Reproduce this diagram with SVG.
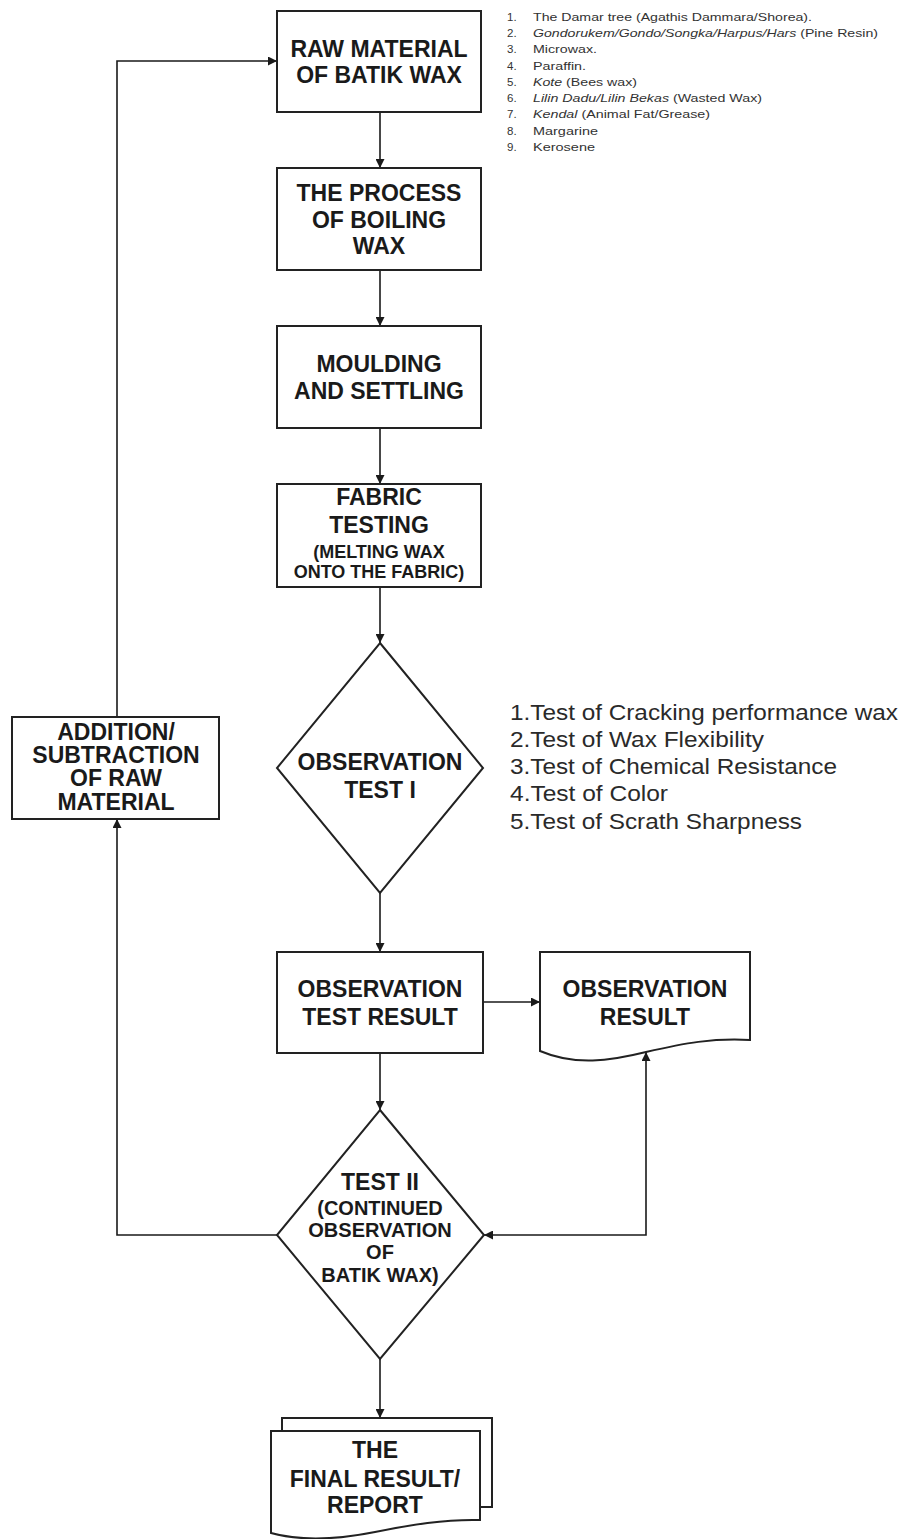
<svg xmlns="http://www.w3.org/2000/svg" width="902" height="1539" viewBox="0 0 902 1539">
<defs>
<marker id="ah" viewBox="0 0 10 10" refX="10" refY="5" markerWidth="9" markerHeight="9" markerUnits="userSpaceOnUse" orient="auto-start-reverse">
<path d="M0,0 L10,5 L0,10 Z" fill="#1a1a1a"/>
</marker>
<style>
.box{fill:#fff;stroke:#222;stroke-width:2}
.t{font-family:"Liberation Sans",Arial,sans-serif;font-weight:bold;font-size:23px;fill:#1a1a1a;text-anchor:middle}
.ts{font-family:"Liberation Sans",Arial,sans-serif;font-weight:bold;font-size:18px;fill:#1a1a1a;text-anchor:middle}
.tm{font-family:"Liberation Sans",Arial,sans-serif;font-weight:bold;font-size:20px;fill:#1a1a1a;text-anchor:middle}
.l{font-family:"Liberation Sans",Arial,sans-serif;font-size:22px;fill:#2a2a2a}
.s{font-family:"Liberation Sans",Arial,sans-serif;font-size:11.5px;fill:#333}
.c{fill:none;stroke:#1a1a1a;stroke-width:1.6}
</style>
</defs>
<rect width="902" height="1539" fill="#fff"/>

<g id="connectors">
<line class="c" x1="380" y1="112" x2="380" y2="168" marker-end="url(#ah)"/>
<line class="c" x1="380" y1="270" x2="380" y2="326" marker-end="url(#ah)"/>
<line class="c" x1="380" y1="428" x2="380" y2="484" marker-end="url(#ah)"/>
<line class="c" x1="380" y1="587" x2="380" y2="643" marker-end="url(#ah)"/>
<line class="c" x1="380" y1="893" x2="380" y2="952" marker-end="url(#ah)"/>
<line class="c" x1="483" y1="1002" x2="540" y2="1002" marker-end="url(#ah)"/>
<line class="c" x1="380" y1="1053" x2="380" y2="1110" marker-end="url(#ah)"/>
<polyline class="c" points="484,1235 646,1235 646,1052" marker-start="url(#ah)" marker-end="url(#ah)"/>
<polyline class="c" points="277,1235 117,1235 117,819" marker-end="url(#ah)"/>
<polyline class="c" points="117,717 117,61 277,61" marker-end="url(#ah)"/>
<line class="c" x1="380" y1="1359" x2="380" y2="1418" marker-end="url(#ah)"/>
</g>

<g id="raw-material">
<rect class="box" x="277" y="11" width="204" height="101"/>
<text class="t" x="379" y="57">RAW MATERIAL</text>
<text class="t" x="379" y="83">OF BATIK WAX</text>
</g>

<g id="raw-list">
<text class="s" x="507" y="21">1.</text><text class="s" x="533" y="21" textLength="279" lengthAdjust="spacingAndGlyphs">The Damar tree (Agathis Dammara/Shorea).</text>
<text class="s" x="507" y="37">2.</text><text class="s" x="533" y="37" textLength="345" lengthAdjust="spacingAndGlyphs"><tspan font-style="italic">Gondorukem/Gondo/Songka/Harpus/Hars</tspan> (Pine Resin)</text>
<text class="s" x="507" y="53">3.</text><text class="s" x="533" y="53" textLength="64" lengthAdjust="spacingAndGlyphs">Microwax.</text>
<text class="s" x="507" y="70">4.</text><text class="s" x="533" y="70" textLength="53" lengthAdjust="spacingAndGlyphs">Paraffin.</text>
<text class="s" x="507" y="86">5.</text><text class="s" x="533" y="86" textLength="104" lengthAdjust="spacingAndGlyphs"><tspan font-style="italic">Kote</tspan> (Bees wax)</text>
<text class="s" x="507" y="102">6.</text><text class="s" x="533" y="102" textLength="229" lengthAdjust="spacingAndGlyphs"><tspan font-style="italic">Lilin Dadu/Lilin Bekas</tspan> (Wasted Wax)</text>
<text class="s" x="507" y="118">7.</text><text class="s" x="533" y="118" textLength="177" lengthAdjust="spacingAndGlyphs"><tspan font-style="italic">Kendal</tspan> (Animal Fat/Grease)</text>
<text class="s" x="507" y="135">8.</text><text class="s" x="533" y="135" textLength="65" lengthAdjust="spacingAndGlyphs">Margarine</text>
<text class="s" x="507" y="151">9.</text><text class="s" x="533" y="151" textLength="62" lengthAdjust="spacingAndGlyphs">Kerosene</text>
</g>

<g id="boiling">
<rect class="box" x="277" y="168" width="204" height="102"/>
<text class="t" x="379" y="201">THE PROCESS</text>
<text class="t" x="379" y="228">OF BOILING</text>
<text class="t" x="379" y="254">WAX</text>
</g>

<g id="moulding">
<rect class="box" x="277" y="326" width="204" height="102"/>
<text class="t" x="379" y="372">MOULDING</text>
<text class="t" x="379" y="399">AND SETTLING</text>
</g>

<g id="fabric">
<rect class="box" x="277" y="484" width="204" height="103"/>
<text class="t" x="379" y="505">FABRIC</text>
<text class="t" x="379" y="533">TESTING</text>
<text class="ts" x="379" y="558">(MELTING WAX</text>
<text class="ts" x="379" y="578">ONTO THE FABRIC)</text>
</g>

<g id="test1">
<polygon class="box" points="380,643 483,768 380,893 277,768"/>
<text class="t" x="380" y="770">OBSERVATION</text>
<text class="t" x="380" y="798">TEST I</text>
</g>

<g id="test-list">
<text class="l" x="510" y="720" textLength="388" lengthAdjust="spacingAndGlyphs">1.Test of Cracking performance wax</text>
<text class="l" x="510" y="747" textLength="254" lengthAdjust="spacingAndGlyphs">2.Test of Wax Flexibility</text>
<text class="l" x="510" y="774" textLength="327" lengthAdjust="spacingAndGlyphs">3.Test of Chemical Resistance</text>
<text class="l" x="510" y="801" textLength="158" lengthAdjust="spacingAndGlyphs">4.Test of Color</text>
<text class="l" x="510" y="829" textLength="292" lengthAdjust="spacingAndGlyphs">5.Test of Scrath Sharpness</text>
</g>

<g id="test-result">
<rect class="box" x="277" y="952" width="206" height="101"/>
<text class="t" x="380" y="997">OBSERVATION</text>
<text class="t" x="380" y="1025">TEST RESULT</text>
</g>

<g id="observation-result">
<path class="box" d="M540,952 H750 V1040 C712,1038 685,1043 646,1052 C610,1061 575,1066 540,1051 Z"/>
<text class="t" x="645" y="997">OBSERVATION</text>
<text class="t" x="645" y="1025">RESULT</text>
</g>

<g id="test2">
<polygon class="box" points="380,1110 484,1235 380,1359 277,1235"/>
<text class="t" x="380" y="1190">TEST II</text>
<text class="tm" x="380" y="1215">(CONTINUED</text>
<text class="tm" x="380" y="1237">OBSERVATION</text>
<text class="tm" x="380" y="1259">OF</text>
<text class="tm" x="380" y="1282">BATIK WAX)</text>
</g>

<g id="addition">
<rect class="box" x="12" y="717" width="207" height="102"/>
<text class="t" x="116" y="740">ADDITION/</text>
<text class="t" x="116" y="763">SUBTRACTION</text>
<text class="t" x="116" y="786">OF RAW</text>
<text class="t" x="116" y="810">MATERIAL</text>
</g>

<g id="final-report">
<path class="box" d="M282,1431 V1418 H492 V1507 H480"/>
<path class="box" d="M271,1431 H480 V1520 C445,1519 410,1525 375,1532 C335,1540 300,1541 271,1533 Z"/>
<text class="t" x="375" y="1458">THE</text>
<text class="t" x="375" y="1487">FINAL RESULT/</text>
<text class="t" x="375" y="1513">REPORT</text>
</g>
</svg>
